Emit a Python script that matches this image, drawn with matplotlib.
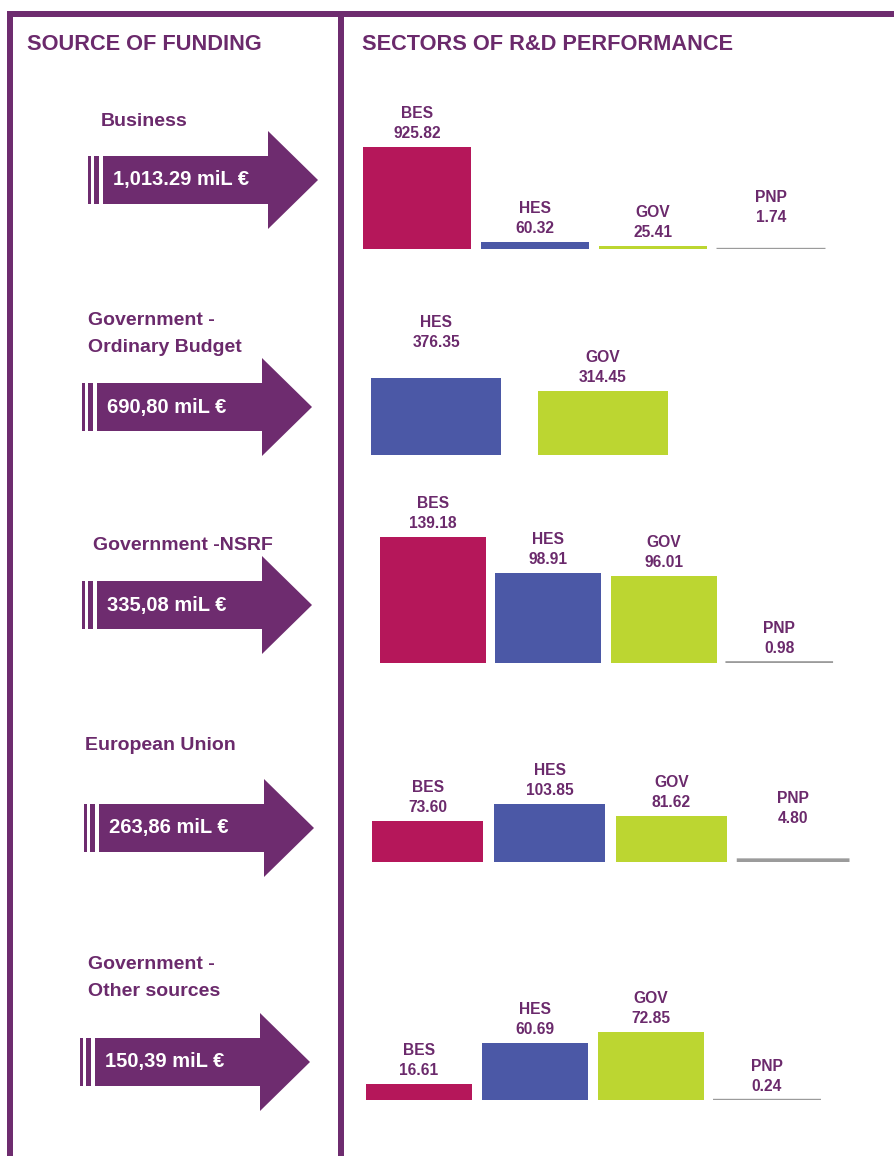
import matplotlib
matplotlib.use("Agg")
import matplotlib.pyplot as plt
from matplotlib.patches import Rectangle, Polygon
from matplotlib import font_manager

# --- data -------------------------------------------------------------
sources = ["Business", "Government -\nOrdinary Budget", "Government -NSRF",
           "European Union", "Government -\nOther sources"]
source_totals = ["1,013.29 miL €", "690,80 miL €", "335,08 miL €",
                 "263,86 miL €", "150,39 miL €"]

g1_sectors = ["BES", "HES", "GOV", "PNP"]
g1_values = [925.82, 60.32, 25.41, 1.74]
g2_sectors = ["HES", "GOV"]
g2_values = [376.35, 314.45]
g3_sectors = ["BES", "HES", "GOV", "PNP"]
g3_values = [139.18, 98.91, 96.01, 0.98]
g4_sectors = ["BES", "HES", "GOV", "PNP"]
g4_values = [73.60, 103.85, 81.62, 4.80]
g5_sectors = ["BES", "HES", "GOV", "PNP"]
g5_values = [16.61, 60.69, 72.85, 0.24]

groups = [(g1_sectors, g1_values), (g2_sectors, g2_values), (g3_sectors, g3_values),
          (g4_sectors, g4_values), (g5_sectors, g5_values)]

# --- style / layout ----------------------------------------------------
W, H = 894, 1156
PURPLE = "#6e2c6f"
TEXT = "#6b2a6c"
COLORS = {"BES": "#b5175a", "HES": "#4b58a6", "GOV": "#bcd631", "PNP": "#9b9b9b"}

avail = {f.name for f in font_manager.fontManager.ttflist}
NARROW = "Liberation Sans Narrow" if "Liberation Sans Narrow" in avail else "Liberation Sans"
REG = "Liberation Sans"
# no narrow face -> shrink sizes so widths match the original
shrink = 1.0 if NARROW != REG else 0.88

# arrow: left x of stripes, centre y ; names: x, centre y
arrow_pos = [(88, 180), (82, 407), (82, 605), (84, 828), (80, 1062)]
name_pos = [(101, 121), (88, 334), (93, 545), (85, 746), (88, 978)]
# bar axes: left px, right px, baseline px, px of tallest bar, bar width
bar_layout = [(358, 830, 249, 102, 0.907), (353, 686, 455, 77, 0.78),
              (375, 837, 663, 126, 0.915), (367, 854, 862, 58, 0.91),
              (361, 825, 1100, 68, 0.914)]
# extra lift (px) of the labels for a few bars
label_lift = [[0, 0, 0, 18], [22, 0], [0, 0, 0, 0], [0, 0, 0, 27], [0, 0, 0, 0]]

fig = plt.figure(figsize=(W / 100, H / 100), dpi=100)
bg = fig.add_axes([0, 0, 1, 1])
bg.set_xlim(0, W)
bg.set_ylim(H, 0)
bg.axis("off")

# frame lines
bg.add_patch(Rectangle((7, 11), W - 7, 6, color=PURPLE, lw=0))
bg.add_patch(Rectangle((7, 11), 6, H - 11, color=PURPLE, lw=0))
bg.add_patch(Rectangle((338, 11), 6, H - 11, color=PURPLE, lw=0))

bg.text(27, 44, "SOURCE OF FUNDING", family=NARROW, weight="bold", fontsize=17.8 * shrink,
        color=TEXT, va="center", ha="left")
bg.text(362, 44, "SECTORS OF R&D PERFORMANCE", family=NARROW, weight="bold",
        fontsize=17.8 * shrink, color=TEXT, va="center", ha="left")


def draw_arrow(ax, x0, yc, label):
    ax.add_patch(Rectangle((x0, yc - 24), 3, 48, color=PURPLE, lw=0))
    ax.add_patch(Rectangle((x0 + 6, yc - 24), 5, 48, color=PURPLE, lw=0))
    tip = x0 + 230
    base = tip - 50
    body = x0 + 15
    pts = [(body, yc - 24), (base, yc - 24), (base, yc - 49), (tip, yc),
           (base, yc + 49), (base, yc + 24), (body, yc + 24)]
    ax.add_patch(Polygon(pts, closed=True, color=PURPLE, lw=0))
    ax.text(x0 + 25, yc, label, family=NARROW, weight="bold", fontsize=16.5 * shrink,
            color="white", va="center", ha="left")


for i in range(len(sources)):
    x0, yc = arrow_pos[i]
    draw_arrow(bg, x0, yc, source_totals[i])
    nx, ny = name_pos[i]
    bg.text(nx, ny, sources[i], family=REG, weight="bold", fontsize=14, color=TEXT,
            va="center", ha="left", linespacing=1.75)

# bar groups, each on its own scale
for (sectors, values), (left, right, base, tall, bw), lifts in zip(groups, bar_layout, label_lift):
    n = len(sectors)
    ax_h = 200
    ax = fig.add_axes([left / W, 1 - base / H, (right - left) / W, ax_h / H])
    ax.set_xlim(-0.5, n - 0.5)
    ax.set_ylim(0, max(values) * ax_h / tall)
    ax.axis("off")
    x = list(range(n))
    cols = [COLORS[s] for s in sectors]
    bars = ax.bar(x, values, width=bw, color=cols, lw=0)
    for b, s in zip(bars, sectors):
        if s == "PNP":
            # tiny values: give the bar a visible grey rule
            b.set_edgecolor(COLORS[s])
            b.set_linewidth(1.4)
            b.set_snap(False)
    for xi, v, s, lift in zip(x, values, sectors, lifts):
        ax.annotate(f"{v:.2f}", (xi, v), xytext=(0, 9 + lift), textcoords="offset pixels",
                    ha="center", va="baseline", family=NARROW, weight="bold",
                    fontsize=12.8 * shrink, color=TEXT, annotation_clip=False)
        ax.annotate(s, (xi, v), xytext=(0, 29 + lift), textcoords="offset pixels",
                    ha="center", va="baseline", family=NARROW, weight="bold",
                    fontsize=12.8 * shrink, color=TEXT, annotation_clip=False)

fig.savefig("out.png", dpi=100)
